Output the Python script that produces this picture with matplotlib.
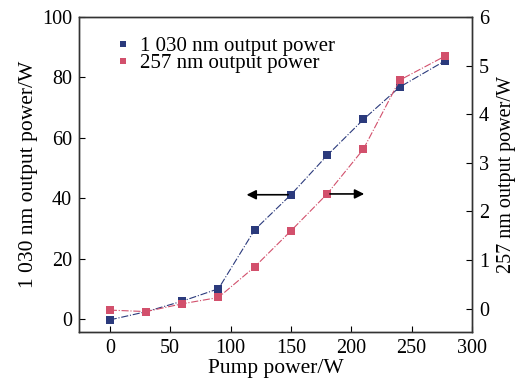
import matplotlib.pyplot as plt

plt.rcParams["font.family"] = ["Liberation Serif", "DejaVu Serif"]
plt.rcParams["font.size"] = 14

# data
pump = [0, 30, 60, 90, 120, 150, 180, 210, 240, 278]
p1030 = [-0.2, 2.5, 6.0, 10.1, 29.6, 41.2, 54.2, 66.1, 76.8, 85.6]
p257 = [-0.03, -0.06, 0.1, 0.23, 0.86, 1.6, 2.36, 3.28, 4.7, 5.2]

Blue = '#2b3a7c'
Red = '#d2506c'

fig = plt.figure(figsize=(5.21, 3.83), dpi=100)
ax = fig.add_axes([0.1516, 0.1332, 0.7544, 0.8224])
ax2 = ax.twinx()

l1, = ax.plot(pump, p1030, color=Blue, linestyle='-.', linewidth=0.8,
              marker='s', markersize=6, markeredgewidth=0, label='1 030 nm output power')
l2, = ax2.plot(pump, p257, color=Red, linestyle='-.', linewidth=0.8,
               marker='s', markersize=6, markeredgewidth=0, label='257 nm output power')

ax.set_xlim(-25.5, 300)
ax.set_ylim(-4.2, 100)
ax2.set_ylim(-0.48, 6)
ax.set_xticks([0, 50, 100, 150, 200, 250, 300])
ax.set_yticks([0, 20, 40, 60, 80, 100])
ax2.set_yticks([0, 1, 2, 3, 4, 5, 6])

for a in [ax, ax2]:
    a.tick_params(direction='in', length=4, width=0.8, labelsize=14.5, pad=5)
    for s in a.spines.values():
        s.set_linewidth(1.0)
        s.set_color('#333333')

ax.set_xlabel('Pump power/W', fontsize=15.5, labelpad=1)
ax.set_ylabel('1 030 nm output power/W', fontsize=15.5, labelpad=3)
ax2.set_ylabel('257 nm output power/W', fontsize=14.5, labelpad=6)

# arrows pointing to the axis each series belongs to
ax.annotate('', xy=(111, 41.2), xytext=(150, 41.2),
            arrowprops=dict(arrowstyle='-|>', color='black', lw=1.2, mutation_scale=14))
ax2.annotate('', xy=(213, 2.36), xytext=(180, 2.36),
             arrowprops=dict(arrowstyle='-|>', color='black', lw=1.2, mutation_scale=14))

leg = ax2.legend(handles=[l1, l2], loc='upper left', bbox_to_anchor=(0.075, 0.965),
                 frameon=False, fontsize=15, handlelength=0.6, handletextpad=0.5,
                 labelspacing=-0.1, borderaxespad=0)
for h in leg.legend_handles:
    h.set_linestyle('None')
    h.set_markersize(5)

plt.savefig('out.png', dpi=100)
